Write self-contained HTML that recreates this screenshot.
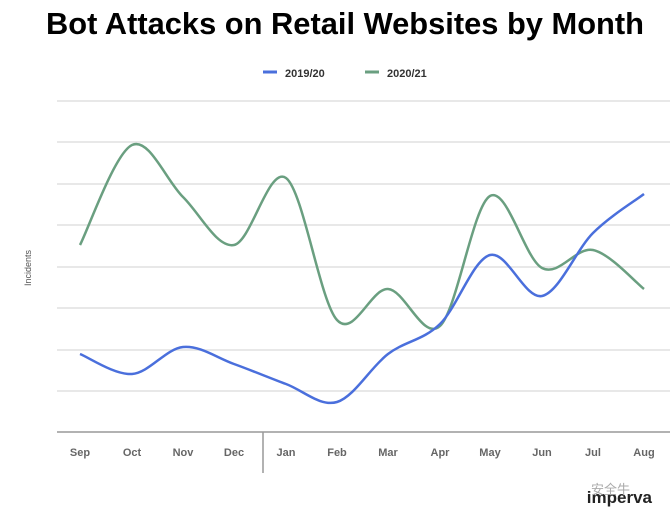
<!DOCTYPE html>
<html><head><meta charset="utf-8"><style>
body{margin:0;width:670px;height:516px;background:#fff;overflow:hidden;font-family:"Liberation Sans",Arial,sans-serif}
</style></head><body>
<svg id="s" width="670" height="516" xmlns="http://www.w3.org/2000/svg">
<text x="345" y="34" text-anchor="middle" font-size="31" font-weight="bold" fill="#000" textLength="598" lengthAdjust="spacingAndGlyphs">Bot Attacks on Retail Websites by Month</text>
<line x1="263" y1="72" x2="277" y2="72" stroke="#4a6fdc" stroke-width="3"/>
<text x="285" y="77" font-size="11" font-weight="bold" fill="#333">2019/20</text>
<line x1="365" y1="72" x2="379" y2="72" stroke="#6a9f80" stroke-width="3"/>
<text x="387" y="77" font-size="11" font-weight="bold" fill="#333">2020/21</text>
<g stroke="#e0e0e0" stroke-width="1.5">
<line x1="57" y1="101" x2="670" y2="101"/><line x1="57" y1="142" x2="670" y2="142"/>
<line x1="57" y1="184" x2="670" y2="184"/><line x1="57" y1="225" x2="670" y2="225"/>
<line x1="57" y1="267" x2="670" y2="267"/><line x1="57" y1="308" x2="670" y2="308"/>
<line x1="57" y1="350" x2="670" y2="350"/><line x1="57" y1="391" x2="670" y2="391"/>
</g>
<line x1="57" y1="432" x2="670" y2="432" stroke="#999" stroke-width="1.5"/>
<line x1="263" y1="432" x2="263" y2="473" stroke="#999" stroke-width="1.5"/>
<text transform="translate(31,268) rotate(-90)" text-anchor="middle" font-size="9" fill="#555">Incidents</text>
<g id="lab" font-size="11" font-weight="bold" fill="#666" text-anchor="middle"></g>
<path id="g" fill="none" stroke="#6a9f80" stroke-width="2.5"/>
<path id="b" fill="none" stroke="#4a6fdc" stroke-width="2.5"/>
<text x="652" y="503" text-anchor="end" font-size="17" font-weight="bold" fill="#222">imperva</text>
<text x="630" y="494" text-anchor="end" font-size="13" fill="#aaa" font-family="'Noto Sans CJK SC',sans-serif">安全牛</text>
</svg>
<script>
var xs=[80,132,183,234,286,337,388,440,490,542,593,644];
var m=["Sep","Oct","Nov","Dec","Jan","Feb","Mar","Apr","May","Jun","Jul","Aug"];
var lab=document.getElementById("lab"),h="";
m.forEach(function(t,i){h+='<text x="'+xs[i]+'" y="456">'+t+'</text>';});
lab.innerHTML=h;
function path(ys){var p=xs.map(function(x,i){return [x,ys[i]]});var d="M"+p[0][0]+","+p[0][1];
for(var i=0;i<p.length-1;i++){var p0=p[i-1]||p[i],p1=p[i],p2=p[i+1],p3=p[i+2]||p2;
var c1x=p1[0]+(p2[0]-p0[0])/6,c1y=p1[1]+(p2[1]-p0[1])/6,c2x=p2[0]-(p3[0]-p1[0])/6,c2y=p2[1]-(p3[1]-p1[1])/6;
d+=" C"+c1x+","+c1y+" "+c2x+","+c2y+" "+p2[0]+","+p2[1];}return d;}
document.getElementById("b").setAttribute("d",path([354,374,347,364,384,402,354,324,255,296,233,194]));
document.getElementById("g").setAttribute("d",path([245,145,197,245,178,320,289,326,196,268,250,289]));
</script>
</body></html>
